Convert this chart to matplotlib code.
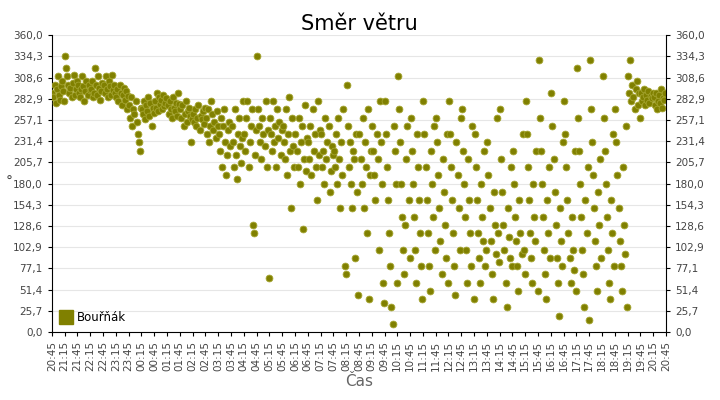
import matplotlib
matplotlib.use("Agg")
import matplotlib.pyplot as plt
from matplotlib.lines import Line2D

tick_labels = []
h, m = 20, 45
for i in range(49):
    tick_labels.append(f"{h:02d}:{m:02d}")
    m += 30
    if m >= 60:
        m -= 60; h = (h + 1) % 24

# wind direction readings per 30-minute slot (degrees)
slots = [
    [290, 285, 300, 278, 295, 310, 288, 282, 298, 305, 292, 280],
    [335, 320, 310, 300, 290, 296, 285, 302, 312, 288, 295, 305],
    [300, 290, 285, 295, 310, 298, 280, 292, 305, 288, 300, 294],
    [295, 305, 285, 290, 320, 300, 288, 310, 296, 282, 292, 302],
    [300, 290, 310, 295, 285, 305, 298, 288, 312, 294, 300, 290],
    [285, 295, 280, 300, 290, 275, 288, 296, 282, 292, 270, 286],
    [275, 260, 285, 250, 270, 265, 280, 255, 240, 230, 220, 272],
    [270, 265, 280, 258, 275, 268, 285, 262, 278, 250, 272, 266],
    [280, 272, 290, 268, 285, 276, 282, 270, 288, 274, 278, 284],
    [275, 265, 280, 270, 260, 285, 272, 268, 278, 262, 290, 276],
    [270, 260, 275, 250, 265, 280, 255, 268, 272, 262, 230, 258],
    [265, 255, 270, 250, 260, 275, 245, 262, 258, 268, 252, 272],
    [260, 240, 270, 230, 250, 280, 265, 245, 255, 235, 268, 250],
    [240, 220, 260, 200, 250, 270, 230, 190, 215, 245, 255, 225],
    [250, 230, 200, 270, 215, 185, 240, 260, 225, 205, 235, 280],
    [240, 220, 260, 280, 200, 230, 250, 270, 130, 120, 215, 245],
    [335, 270, 250, 230, 210, 260, 240, 225, 280, 200, 245, 65],
    [260, 240, 220, 280, 230, 250, 200, 270, 235, 255, 215, 245],
    [250, 230, 210, 270, 190, 240, 285, 220, 150, 260, 225, 200],
    [240, 220, 200, 260, 180, 230, 250, 125, 210, 275, 195, 235],
    [230, 210, 250, 190, 270, 220, 240, 200, 160, 280, 215, 245],
    [240, 200, 220, 180, 260, 210, 230, 250, 170, 195, 225, 215],
    [220, 200, 240, 180, 260, 210, 150, 230, 190, 270, 80, 70],
    [300, 250, 200, 230, 180, 150, 220, 210, 90, 240, 170, 45],
    [240, 210, 180, 260, 150, 230, 200, 120, 270, 40, 190, 220],
    [250, 220, 190, 160, 240, 210, 100, 280, 230, 180, 60, 35],
    [280, 240, 200, 160, 120, 80, 30, 10, 250, 220, 180, 60],
    [310, 270, 230, 180, 140, 100, 70, 130, 210, 250, 160, 90],
    [260, 220, 180, 140, 100, 60, 240, 200, 160, 120, 80, 40],
    [280, 240, 200, 160, 120, 80, 50, 220, 180, 140, 250, 100],
    [260, 230, 190, 150, 110, 70, 210, 170, 130, 90, 240, 60],
    [280, 240, 200, 160, 120, 80, 45, 230, 190, 150, 100, 260],
    [270, 220, 180, 140, 100, 60, 210, 160, 120, 80, 250, 40],
    [240, 200, 160, 120, 90, 60, 180, 140, 110, 220, 80, 100],
    [230, 190, 150, 110, 70, 40, 170, 130, 95, 260, 120, 85],
    [270, 210, 170, 130, 100, 60, 30, 150, 115, 90, 200, 80],
    [220, 180, 140, 110, 80, 50, 160, 120, 95, 240, 100, 70],
    [280, 240, 200, 160, 120, 90, 60, 180, 140, 110, 220, 50],
    [330, 260, 220, 180, 140, 100, 70, 40, 160, 120, 200, 90],
    [290, 250, 210, 170, 130, 90, 60, 20, 150, 110, 80, 230],
    [280, 240, 200, 160, 120, 90, 60, 140, 100, 75, 220, 50],
    [320, 260, 220, 180, 140, 100, 70, 30, 160, 120, 200, 15],
    [330, 270, 230, 190, 150, 110, 80, 50, 170, 130, 210, 90],
    [310, 260, 220, 180, 140, 100, 60, 40, 160, 120, 240, 80],
    [270, 230, 190, 150, 110, 80, 50, 200, 130, 95, 250, 30],
    [310, 290, 330, 280, 300, 285, 270, 295, 305, 275, 290, 260],
    [290, 280, 285, 295, 275, 288, 282, 292, 278, 286, 284, 290],
    [285, 275, 290, 270, 280, 288, 278, 295, 272, 284, 282, 290],
]

xs, ys = [], []
for i, vals in enumerate(slots):
    n = len(vals)
    for j, v in enumerate(vals):
        xs.append(i + (j + 0.5) / n)
        ys.append(v)

fig = plt.figure(figsize=(7.2, 4.0), dpi=100)
ax = fig.add_axes([0.072, 0.17, 0.853, 0.742])
col = "#808000"
ax.scatter(xs, ys, s=24, color=col, edgecolors="#a4a430", linewidths=0.6, zorder=3)
yt = [360 / 14 * k for k in range(15)]
ylab = [f"{v:.1f}".replace(".", ",") for v in yt]
ax.set_ylim(0, 360)
ax.set_xlim(0, 48)
ax.set_yticks(yt)
ax.set_yticklabels(ylab, fontsize=7.5, color="#444444")
ax.set_xticks(range(49))
ax.set_xticklabels(tick_labels, rotation=90, fontsize=7.5, color="#444444")
ax.tick_params(length=3)
ax.grid(axis="y", color="#e6e6e6", linewidth=0.8)
ax.set_axisbelow(True)
for s in ["top", "right"]:
    ax.spines[s].set_visible(False)
ax2 = ax.twinx()
ax2.set_ylim(0, 360)
ax2.set_yticks(yt)
ax2.set_yticklabels(ylab, fontsize=7.5, color="#444444")
ax2.tick_params(length=3)
for s in ["top", "left", "bottom"]:
    ax2.spines[s].set_visible(False)
ax.set_title("Směr větru", fontsize=15, pad=4)
ax.set_xlabel("Čas", fontsize=11, color="#666666", labelpad=2)
fig.text(0.012, 0.545, "°", fontsize=10, color="#444444", ha="center", va="center")
handle = Line2D([], [], marker="s", linestyle="none", color=col, markersize=10)
ax.legend([handle], ["Bouřňák"], loc="lower left", frameon=False, fontsize=8.5,
          handletextpad=0.4, borderaxespad=0.3, handlelength=1.0)
fig.savefig("out.png", dpi=100)
